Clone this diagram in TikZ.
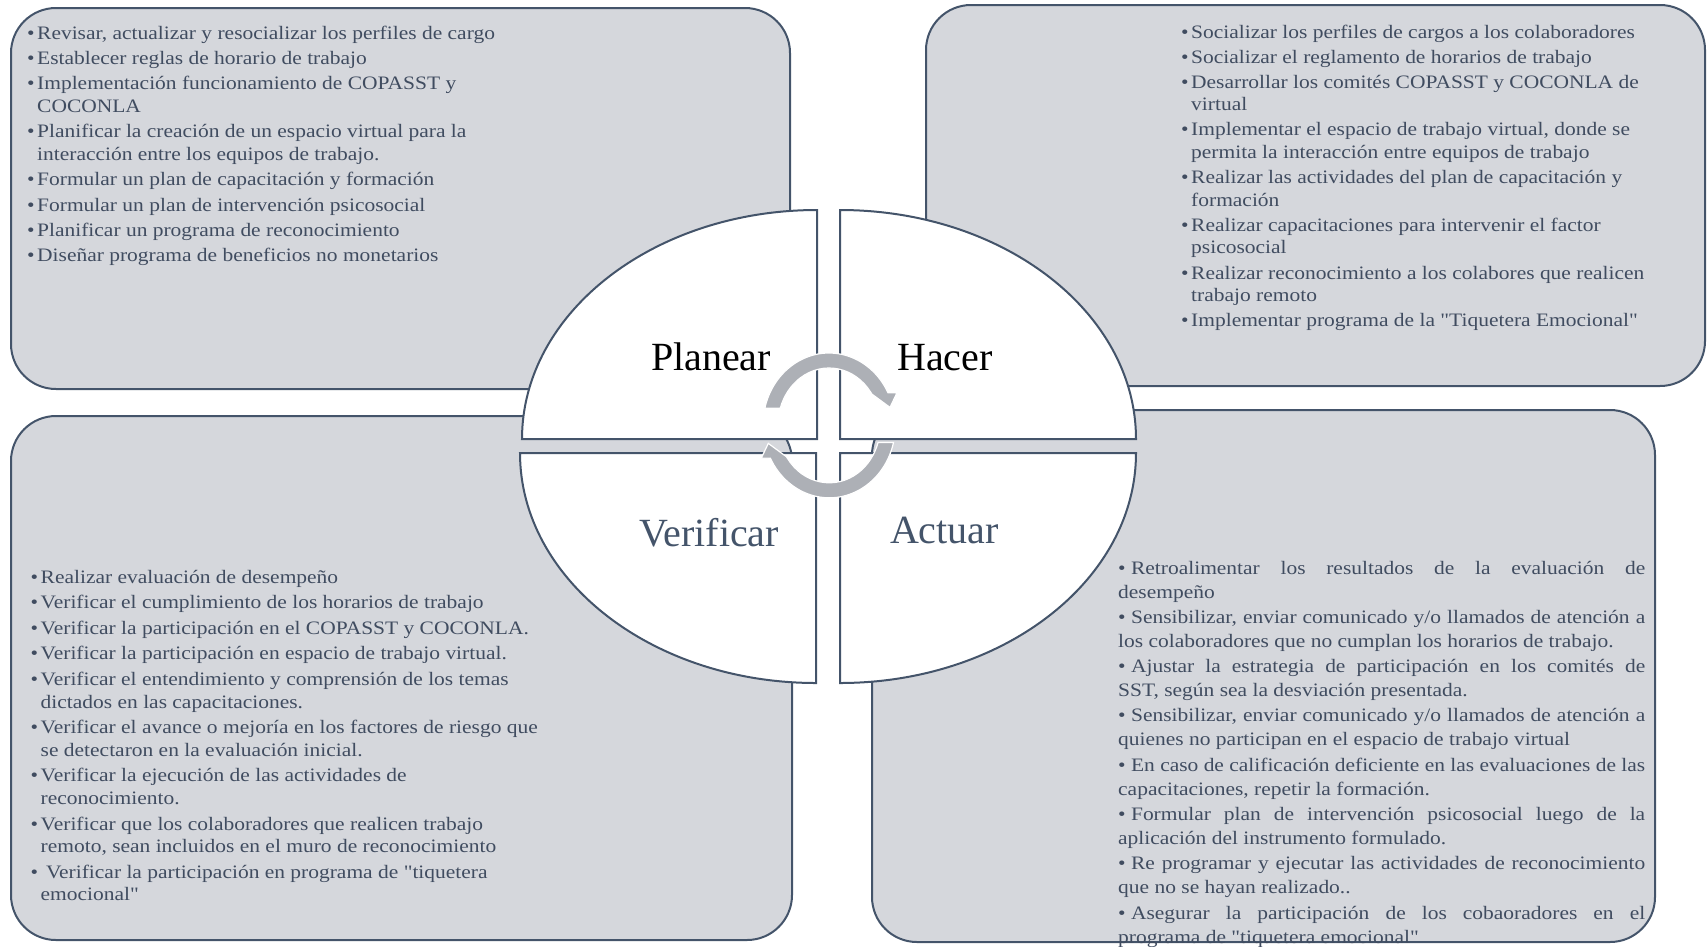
\documentclass[tikz,border=0pt]{standalone}
\usepackage{fontspec}
\setmainfont{Liberation Serif}
\newfontfamily\listfont[FakeStretch=1.13]{Liberation Serif}
\definecolor{bord}{RGB}{68,84,106}
\definecolor{boxfill}{RGB}{213,215,220}
\definecolor{arrowgrey}{RGB}{173,176,182}
\definecolor{txt}{RGB}{64,76,96}
\newcommand\bul{\makebox[10pt][l]{•}}
\newcommand\hang{\hspace*{10pt}}
\newcommand\lsize[1]{\listfont\fontsize{19}{#1}\selectfont}
\newcommand\jline[2]{\makebox[527pt][s]{\mbox{• #1} #2}}
\begin{document}
\begin{tikzpicture}[x=1pt,y=1pt,
  panel/.style={draw=bord, fill=boxfill, line width=2pt, rounded corners=45pt},
  quad/.style={draw=bord, fill=white, line width=2pt},
  lbl/.style={font=\fontsize{40}{48}\selectfont, inner sep=0pt, anchor=base},
  listtext/.style={anchor=base west, inner sep=0pt, text=txt},
  cyclearrow/.style={fill=arrowgrey, draw=white, line width=1.2pt}]
\useasboundingbox (0,0) rectangle (1707,-946);
% corner panels
\draw[panel] (11,-8) rectangle (790,-389);
\draw[panel] (926,-5) rectangle (1705,-386);
\draw[panel] (11,-416) rectangle (792,-940);
\draw[panel] (872,-410) rectangle (1655,-942);
% quadrants
\draw[quad] (817,-439) -- (522,-439) arc[start angle=180, end angle=90, x radius=295, y radius=229] -- cycle;
\draw[quad] (840,-439) -- (840,-210) arc[start angle=90, end angle=0, x radius=296, y radius=229] -- cycle;
\draw[quad] (816,-453) -- (520,-453) arc[start angle=180, end angle=270, x radius=296, y radius=230] -- cycle;
\draw[quad] (840,-453) -- (1136,-453) arc[start angle=0, end angle=-90, x radius=296, y radius=230] -- cycle;
% labels
\node[lbl] (planear) at (711,-370) {Planear};
\node[lbl] (hacer) at (945,-370) {Hacer};
\node[lbl, text=bord] (verificar) at (709,-546) {Verificar};
\node[lbl, text=bord] (actuar) at (944.5,-543) {Actuar};
% cycle arrows
\filldraw[cyclearrow, shift={(829,-425)}]
  (166.6:66 and 72) arc[start angle=166.6, end angle=26.7, x radius=66, y radius=72]
  -- (68,32.3) -- (61,17.6) -- (41,32.3)
  -- (34.5:51 and 57) arc[start angle=34.5, end angle=163, x radius=51, y radius=57] -- cycle;
\filldraw[cyclearrow, shift={(829.3,-425.8)}, rotate=180]
  (166.6:66 and 72) arc[start angle=166.6, end angle=26.7, x radius=66, y radius=72]
  -- (68,32.3) -- (61,17.6) -- (41,32.3)
  -- (34.5:51 and 57) arc[start angle=34.5, end angle=163, x radius=51, y radius=57] -- cycle;
% texts
\node[listtext] (plantext) at (27,-39.3) {\parbox[t]{700pt}{\lsize{22.6}\raggedright
\bul Revisar, actualizar y resocializar los perfiles de cargo\\[2.7pt]%
\bul Establecer reglas de horario de trabajo\\[2.7pt]%
\bul Implementación funcionamiento de COPASST y\\%
\hang COCONLA\\[2.7pt]%
\bul Planificar la creación de un espacio virtual para la\\%
\hang interacción entre los equipos de trabajo.\\[2.7pt]%
\bul Formular un plan de capacitación y formación\\[2.7pt]%
\bul Formular un plan de intervención psicosocial\\[2.7pt]%
\bul Planificar un programa de reconocimiento\\[2.7pt]%
\bul Diseñar programa de beneficios no monetarios}};
\node[listtext] (hacertext) at (1181,-38) {\parbox[t]{500pt}{\lsize{22.6}\raggedright
\bul Socializar los perfiles de cargos a los colaboradores\\[2.5pt]%
\bul Socializar el reglamento de horarios de trabajo\\[2.5pt]%
\bul Desarrollar los comités COPASST y COCONLA de\\%
\hang virtual\\[2.5pt]%
\bul Implementar el espacio de trabajo virtual, donde se\\%
\hang permita la interacción entre equipos de trabajo\\[2.5pt]%
\bul Realizar las actividades del plan de capacitación y\\%
\hang formación\\[2.5pt]%
\bul Realizar capacitaciones para intervenir el factor\\%
\hang psicosocial\\[2.5pt]%
\bul Realizar reconocimiento a los colabores que realicen\\%
\hang trabajo remoto\\[2.5pt]%
\bul Implementar programa de la "Tiquetera Emocional"}};
\node[listtext] (veriftext) at (30.5,-583) {\parbox[t]{700pt}{\lsize{22.6}\raggedright
\bul Realizar evaluación de desempeño\\[3pt]%
\bul Verificar el cumplimiento de los horarios de trabajo\\[3pt]%
\bul Verificar la participación en el COPASST y COCONLA.\\[3pt]%
\bul Verificar la participación en espacio de trabajo virtual.\\[3pt]%
\bul Verificar el entendimiento y comprensión de los temas\\%
\hang dictados en las capacitaciones.\\[3pt]%
\bul Verificar el avance o mejoría en los factores de riesgo que\\%
\hang se detectaron en la evaluación inicial.\\[3pt]%
\bul Verificar la ejecución de las actividades de\\%
\hang reconocimiento.\\[3pt]%
\bul Verificar que los colaboradores que realicen trabajo\\%
\hang remoto, sean incluidos en el muro de reconocimiento\\[3pt]%
\bul\ Verificar la participación en programa de "tiquetera\\%
\hang emocional"}};
\node[listtext] (actuartext) at (1118,-574) {\parbox[t]{527pt}{\lsize{24}\raggedright
\jline{Retroalimentar}{los resultados de la evaluación de}\\%
desempeño\\[1.3pt]%
\jline{Sensibilizar,}{enviar comunicado y/o llamados de atención a}\\%
los colaboradores que no cumplan los horarios de trabajo.\\[1.3pt]%
\jline{Ajustar}{la estrategia de participación en los comités de}\\%
SST, según sea la desviación presentada.\\[1.3pt]%
\jline{Sensibilizar,}{enviar comunicado y/o llamados de atención a}\\%
quienes no participan en el espacio de trabajo virtual\\[1.3pt]%
\jline{En}{caso de calificación deficiente en las evaluaciones de las}\\%
capacitaciones, repetir la formación.\\[1.3pt]%
\jline{Formular}{plan de intervención psicosocial luego de la}\\%
aplicación del instrumento formulado.\\[1.3pt]%
\jline{Re}{programar y ejecutar las actividades de reconocimiento}\\%
que no se hayan realizado..\\[1.3pt]%
\jline{Asegurar}{la participación de los cobaoradores en el}\\%
programa de "tiquetera emocional"}};
\end{tikzpicture}
\end{document}
